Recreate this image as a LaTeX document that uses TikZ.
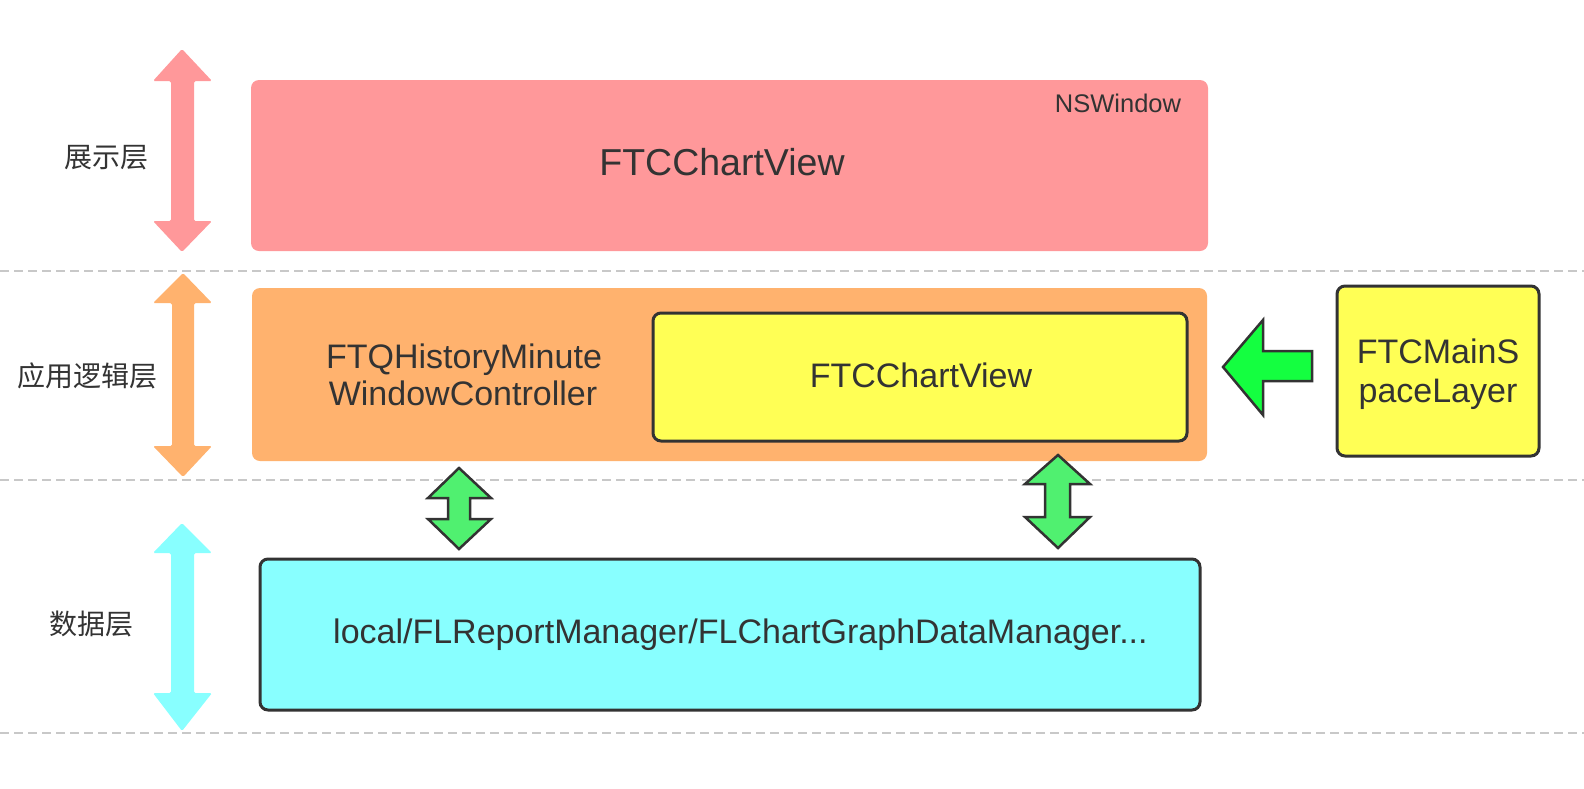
\documentclass[tikz,border=0pt]{standalone}
\usepackage{fontspec}
\setmainfont{Liberation Sans}
\newfontfamily\cjk{Noto Sans CJK SC}
\definecolor{pinkc}{HTML}{FF989A}
\definecolor{orangec}{HTML}{FFB26E}
\definecolor{yellowc}{HTML}{FFFF55}
\definecolor{cyanc}{HTML}{88FFFF}
\definecolor{greenL}{HTML}{14FF40}
\definecolor{greenD}{HTML}{50F070}
\definecolor{txt}{HTML}{333333}
\definecolor{dash}{HTML}{C8C8C8}
\definecolor{bord}{HTML}{333333}
\begin{document}
\begin{tikzpicture}[x=1pt,y=-1pt,
  layer/.style={draw=none,rounded corners=8pt},
  boxed/.style={draw=bord,line width=3pt,rounded corners=8pt},
  sep/.style={draw=dash,line width=2pt,dash pattern=on 9pt off 5pt},
  lbl/.style={text=txt,inner sep=0pt},
  cn/.style={text=txt,inner sep=0pt,font=\cjk\fontsize{28}{32}\selectfont},
  body/.style={text=txt,inner sep=0pt,font=\fontsize{34}{37}\selectfont},
  garrow/.style={draw=bord,line width=2.5pt,line join=miter},
]
\useasboundingbox (0,0) rectangle (1584,788);
\fill[white] (0,0) rectangle (1584,788);

% separators
\coordinate (s1l) at (0,271); \coordinate (s1r) at (1584,271);
\coordinate (s2l) at (0,480); \coordinate (s2r) at (1584,480);
\coordinate (s3l) at (0,733); \coordinate (s3r) at (1584,733);
\draw[sep] (s1l) -- (s1r);
\draw[sep] (s2l) -- (s2r);
\draw[sep] (s3l) -- (s3r);

% layer boxes
\path[fill=pinkc,rounded corners=8pt] (251,80) rectangle (1208,251);
\node (pink) at (729.5,165.5) {};
\path[fill=orangec,rounded corners=8pt] (252,288) rectangle (1207,461);
\node (orange) at (729.5,374.5) {};
\draw[boxed,fill=yellowc] (653,313) rectangle (1187,441);
\node (yel) at (920,377) {};
\draw[boxed,fill=yellowc] (1337,286) rectangle (1539,456);
\node (msl) at (1438,371) {};
\draw[boxed,fill=cyanc] (260,559) rectangle (1200,710);
\node (cy) at (730,634.5) {};

% layer double arrows
\fill[pinkc,rounded corners=1.5pt] (182,49) -- (212,81) -- (194,81) -- (194,221) -- (212,221) -- (182,252) -- (153,221) -- (171,221) -- (171,81) -- (153,81) -- cycle;
\fill[orangec,rounded corners=1.5pt] (183,273) -- (212,303) -- (194,303) -- (194,446) -- (212,446) -- (183,477) -- (153,446) -- (172,446) -- (172,303) -- (153,303) -- cycle;
\fill[cyanc,rounded corners=1.5pt] (182,523) -- (212,553) -- (194,553) -- (194,693) -- (212,693) -- (182,731) -- (153,693) -- (171,693) -- (171,553) -- (153,553) -- cycle;

% green arrows
\draw[garrow,fill=greenD] (459,468) -- (491,498) -- (470,498) -- (470,519) -- (491,519) -- (459,549) -- (428,519) -- (448,519) -- (448,498) -- (428,498) -- cycle;
\draw[garrow,fill=greenD] (1058,455) -- (1090,484) -- (1070,484) -- (1070,517) -- (1090,517) -- (1058,548) -- (1025,517) -- (1045,517) -- (1045,484) -- (1025,484) -- cycle;
\draw[garrow,fill=greenL] (1223,367) -- (1263,320) -- (1263,351) -- (1312,351) -- (1312,381) -- (1263,381) -- (1263,415) -- cycle;

% texts
\node[cn] (t1) at (106,158) {展示层};
\node[cn] (t2) at (87,376) {应用逻辑层};
\node[cn] (t3) at (91,624) {数据层};
\node[lbl,font=\fontsize{37.5}{40}\selectfont,anchor=base] (tbig) at (722,175) {FTCChartView};
\node[lbl,font=\fontsize{25.5}{28}\selectfont,anchor=base] (tns) at (1118,112) {NSWindow};
\node[body,anchor=base] (th1) at (464,368) {FTQHistoryMinute};
\node[body,anchor=base] (th2) at (463,405) {WindowController};
\node[body,anchor=base] (tyel) at (921,387) {FTCChartView};
\node[body,anchor=base] (tm1) at (1438,363) {FTCMainS};
\node[body,anchor=base] (tm2) at (1438,402) {paceLayer};
\node[body,anchor=base west] (tloc) at (333,643) {local/FLReportManager/FLChartGraphDataManager...};
\end{tikzpicture}
\end{document}
